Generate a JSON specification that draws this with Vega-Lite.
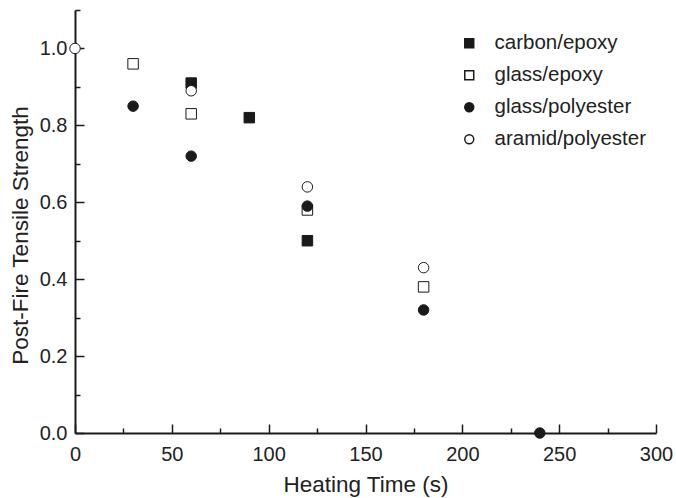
{
  "$schema": "https://vega.github.io/schema/vega-lite/v6.json",
  "width": 581,
  "height": 423,
  "autosize": {"type": "none"},
  "padding": {"left": 75, "top": 10, "right": 20, "bottom": 65},
  "background": "white",
  "config": {
    "view": {"stroke": null},
    "font": "Liberation Sans",
    "axis": {
      "domainColor": "#1a1a1a",
      "domainWidth": 2,
      "tickColor": "#1a1a1a",
      "tickWidth": 1.5,
      "labelColor": "#222222",
      "titleColor": "#222222",
      "labelFont": "Liberation Sans",
      "titleFont": "Liberation Sans",
      "labelFontSize": 20,
      "titleFontSize": 22.5,
      "titleFontWeight": "normal",
      "grid": false,
      "labelOverlap": false,
      "labelBound": false,
      "labelFlush": false
    },
    "legend": {
      "labelFont": "Liberation Sans",
      "labelFontSize": 20.5,
      "labelColor": "#222222",
      "symbolSize": 80
    }
  },
  "data": {
    "values": [
      {"time": 60, "strength": 0.91, "series": "carbon/epoxy"},
      {"time": 90, "strength": 0.82, "series": "carbon/epoxy"},
      {"time": 120, "strength": 0.50, "series": "carbon/epoxy"},
      {"time": 30, "strength": 0.96, "series": "glass/epoxy"},
      {"time": 60, "strength": 0.83, "series": "glass/epoxy"},
      {"time": 120, "strength": 0.58, "series": "glass/epoxy"},
      {"time": 180, "strength": 0.38, "series": "glass/epoxy"},
      {"time": 30, "strength": 0.85, "series": "glass/polyester"},
      {"time": 60, "strength": 0.72, "series": "glass/polyester"},
      {"time": 120, "strength": 0.59, "series": "glass/polyester"},
      {"time": 180, "strength": 0.32, "series": "glass/polyester"},
      {"time": 240, "strength": 0.0, "series": "glass/polyester"},
      {"time": 0, "strength": 1.0, "series": "aramid/polyester"},
      {"time": 60, "strength": 0.89, "series": "aramid/polyester"},
      {"time": 120, "strength": 0.64, "series": "aramid/polyester"},
      {"time": 180, "strength": 0.43, "series": "aramid/polyester"}
    ]
  },
  "resolve": {"axis": {"x": "independent", "y": "independent"}},
  "layer": [
    {
      "mark": {"type": "point", "opacity": 0, "clip": false},
      "encoding": {
        "x": {
          "field": "time",
          "type": "quantitative",
          "scale": {"domain": [0, 300], "nice": false},
          "axis": {
            "orient": "top",
            "offset": -423,
            "title": null,
            "labels": false,
            "domain": false,
            "values": [0, 25, 50, 75, 100, 125, 150, 175, 200, 225, 250, 275, 300],
            "tickSize": {"condition": {"test": "datum.value % 50 === 0", "value": 9}, "value": 5}
          }
        },
        "y": {
          "field": "strength",
          "type": "quantitative",
          "scale": {"domain": [0, 1.1], "nice": false},
          "axis": {
            "orient": "right",
            "offset": -581,
            "title": null,
            "labels": false,
            "domain": false,
            "values": [0, 0.1, 0.2, 0.3, 0.4, 0.5, 0.6, 0.7, 0.8, 0.9, 1.0, 1.1],
            "tickSize": {"condition": {"test": "round(datum.value * 10) % 2 === 0", "value": 9}, "value": 5}
          }
        }
      }
    },
    {
      "mark": {"type": "point", "filled": true, "stroke": "#1a1a1a", "strokeWidth": 1, "opacity": 1, "size": 110, "clip": false},
      "encoding": {
        "x": {
          "field": "time",
          "type": "quantitative",
          "scale": {"domain": [0, 300], "nice": false},
          "axis": {
            "orient": "bottom",
            "title": "Heating Time (s)",
            "ticks": false,
            "tickSize": 0,
            "values": [0, 50, 100, 150, 200, 250, 300],
            "labelBaseline": "alphabetic",
            "labelPadding": 27,
            "titleBaseline": "alphabetic",
            "titleY": 58
          }
        },
        "y": {
          "field": "strength",
          "type": "quantitative",
          "scale": {"domain": [0, 1.1], "nice": false},
          "axis": {
            "orient": "left",
            "title": "Post-Fire Tensile Strength",
            "ticks": false,
            "tickSize": 0,
            "values": [0, 0.2, 0.4, 0.6, 0.8, 1.0],
            "format": ".1f",
            "labelPadding": 8,
            "titleX": -48,
            "titleY": 225,
            "titleBaseline": "alphabetic"
          }
        },
        "shape": {
          "field": "series",
          "type": "nominal",
          "scale": {
            "domain": ["carbon/epoxy", "glass/epoxy", "glass/polyester", "aramid/polyester"],
            "range": ["square", "square", "circle", "circle"]
          },
          "legend": {
            "title": null, "orient": "none", "legendX": 384, "legendY": 23, "rowPadding": 11, "labelOffset": 15,
            "encode": {"symbols": {"update": {"stroke": {"value": "#1a1a1a"}, "strokeWidth": {"value": 1}}}}
          }
        },
        "fill": {
          "field": "series",
          "type": "nominal",
          "scale": {
            "domain": ["carbon/epoxy", "glass/epoxy", "glass/polyester", "aramid/polyester"],
            "range": ["#1a1a1a", "#ffffff", "#1a1a1a", "#ffffff"]
          },
          "legend": {
            "title": null, "orient": "none", "legendX": 384, "legendY": 23, "rowPadding": 11, "labelOffset": 15,
            "encode": {"symbols": {"update": {"stroke": {"value": "#1a1a1a"}, "strokeWidth": {"value": 1}}}}
          }
        }
      }
    }
  ]
}
